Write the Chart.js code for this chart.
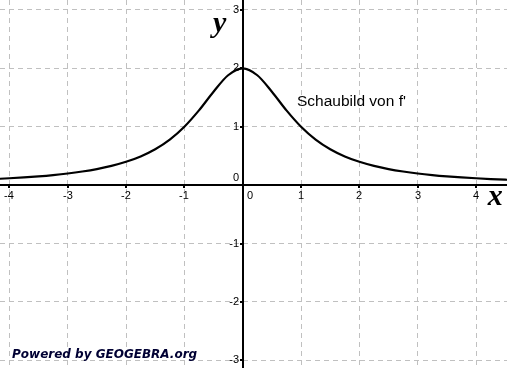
<!DOCTYPE html>
<html>
<head>
<meta charset="utf-8">
<script src="https://cdn.jsdelivr.net/npm/chart.js@4.4.1/dist/chart.umd.min.js"></script>
<style>
    html, body { margin: 0; padding: 0; background: #fff; }
    canvas { display: block; }
</style>
</head>
<body>
<canvas id="graph" width="507" height="368"></canvas>
<script>
// ============================================================
// Schaubild von f'
// ============================================================

const xValues = [-4.25, -4, -3.75, -3.5, -3.25, -3, -2.75, -2.5, -2.25, -2,
                 -1.75, -1.5, -1.25, -1, -0.75, -0.5, -0.25, 0,
                 0.25, 0.5, 0.75, 1, 1.25, 1.5, 1.75, 2, 2.25, 2.5, 2.75,
                 3, 3.25, 3.5, 3.75, 4, 4.25, 4.5, 4.75];
const yValues = [0.105, 0.118, 0.133, 0.151, 0.173, 0.200, 0.234, 0.276, 0.330, 0.400,
                 0.492, 0.615, 0.780, 1.000, 1.280, 1.600, 1.882, 2.000,
                 1.882, 1.600, 1.280, 1.000, 0.780, 0.615, 0.492, 0.400, 0.330, 0.276, 0.234,
                 0.200, 0.173, 0.151, 0.133, 0.118, 0.105, 0.094, 0.085];

const xTicks = [-4, -3, -2, -1, 1, 2, 3, 4];
const yTicks = [3, 2, 1, -1, -2, -3];

const points = xValues.map((x, i) => ({ x: x, y: yValues[i] }));

// axes, tick labels and captions drawn on top of the grid
const geoAxes = {
    id: 'geoAxes',
    beforeDatasetsDraw(chart) {
        const ctx = chart.ctx;
        const sx  = chart.scales.x;
        const sy  = chart.scales.y;
        const ox  = Math.round(sx.getPixelForValue(0));
        const oy  = Math.round(sy.getPixelForValue(0));

        ctx.save();
        ctx.strokeStyle = '#000';
        ctx.lineWidth   = 2;
        ctx.beginPath();
        ctx.moveTo(0, oy);               ctx.lineTo(chart.width, oy);
        ctx.moveTo(ox, 0);               ctx.lineTo(ox, chart.height);
        ctx.stroke();

        ctx.fillStyle = '#000';
        ctx.font      = '11px "Liberation Sans", Arial, sans-serif';

        // x ticks
        ctx.textAlign    = 'center';
        ctx.textBaseline = 'top';
        xTicks.forEach(v => {
            const px = Math.round(sx.getPixelForValue(v));
            ctx.fillRect(px - 1, oy + 1, 2, 2);
            ctx.fillText(String(v), px, oy + 5);
        });
        ctx.fillText('0', ox + 7, oy + 5);

        // y ticks
        ctx.textAlign    = 'right';
        ctx.textBaseline = 'middle';
        yTicks.forEach(v => {
            const py = Math.round(sy.getPixelForValue(v));
            ctx.fillRect(ox - 3, py - 1, 2, 2);
            ctx.fillText(String(v), ox - 4, py);
        });
        ctx.fillText('0', ox - 4, oy - 7);

        // axis names
        ctx.font         = 'bold italic 30px "Liberation Serif", "DejaVu Serif", serif';
        ctx.textAlign    = 'left';
        ctx.textBaseline = 'alphabetic';
        ctx.fillText('y', ox - 30, sy.getPixelForValue(2.62));
        ctx.fillText('x', sx.getPixelForValue(4.2), oy + 20);

        // curve label
        ctx.font = '15.5px "Liberation Sans", Arial, sans-serif';
        ctx.fillText("Schaubild von f'", sx.getPixelForValue(0.93), sy.getPixelForValue(1.36));

        // footer
        ctx.font      = 'bold italic 12px "DejaVu Sans", Verdana, sans-serif';
        ctx.fillStyle = '#000033';
        ctx.fillText('Powered by GEOGEBRA.org', 12, 358);
        ctx.restore();
    }
};

new Chart(document.getElementById('graph'), {
    type: 'scatter',
    data: {
        datasets: [{
            data: points,
            showLine: true,
            borderColor: '#000',
            borderWidth: 2.2,
            pointRadius: 0,
            cubicInterpolationMode: 'monotone',
            fill: false
        }]
    },
    options: {
        responsive: false,
        animation: false,
        layout: { padding: 0 },
        plugins: { legend: { display: false }, tooltip: { enabled: false } },
        scales: {
            x: {
                type: 'linear',
                min: -4.16, max: 4.53,
                ticks: { display: false, stepSize: 1, includeBounds: false },
                grid: { color: '#c0c0c0', lineWidth: 1, drawTicks: false },
                border: { display: false, dash: [5, 4] }
            },
            y: {
                type: 'linear',
                min: -3.13, max: 3.17,
                ticks: { display: false, stepSize: 1, includeBounds: false },
                grid: { color: '#c0c0c0', lineWidth: 1, drawTicks: false },
                border: { display: false, dash: [5, 4] }
            }
        }
    },
    plugins: [geoAxes]
});
</script>
</body>
</html>
